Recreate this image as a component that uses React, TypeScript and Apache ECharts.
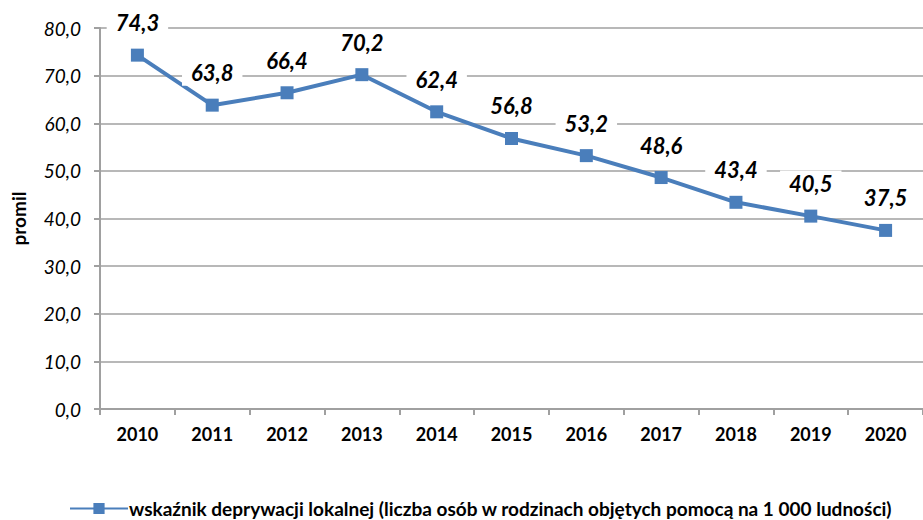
import React, { useEffect, useRef } from "react";
import * as echarts from "echarts";

const years = ["2010", "2011", "2012", "2013", "2014", "2015", "2016", "2017", "2018", "2019", "2020"];
const values = [74.3, 63.8, 66.4, 70.2, 62.4, 56.8, 53.2, 48.6, 43.4, 40.5, 37.5];
const seriesName = "wskaźnik deprywacji lokalnej (liczba osób w rodzinach objętych pomocą na 1 000 ludności)";
const yAxisName = "promil";

const FONT = "Lato, 'Open Sans', sans-serif";
const BLUE = "#4a7ebb";
const GRID = "#a0a0a0";

export default function App() {
  const ref = useRef<HTMLDivElement>(null);
  useEffect(() => {
    if (!ref.current) return;
    const chart = echarts.init(ref.current, null, { renderer: "svg" });
    chart.setOption({
      animation: false,
      grid: { left: 100, right: -7, top: 28, bottom: 111, containLabel: false },
      legend: {
        show: true,
        left: 64,
        top: 494,
        itemWidth: 58,
        itemHeight: 14,
        itemGap: 0,
        textStyle: { fontFamily: FONT, fontWeight: "bold", fontSize: 19, color: "#000", padding: [0, 0, 0, -4] },
        data: [{ name: seriesName }],
      },
      xAxis: {
        type: "category",
        data: years,
        boundaryGap: true,
        axisLine: { lineStyle: { color: GRID, width: 2 } },
        axisTick: { show: true, length: 6, alignWithLabel: false, lineStyle: { color: GRID, width: 2 } },
        axisLabel: { fontFamily: FONT, fontWeight: "bold", fontSize: 18, color: "#000", margin: 16 },
      },
      yAxis: {
        type: "value",
        min: 0,
        max: 80,
        interval: 10,
        name: yAxisName,
        nameLocation: "middle",
        nameGap: 72,
        nameRotate: 90,
        nameTextStyle: { fontFamily: FONT, fontWeight: "bold", fontSize: 19, color: "#000" },
        axisLine: { show: true, lineStyle: { color: GRID, width: 2 } },
        axisTick: { show: true, length: 6, lineStyle: { color: GRID, width: 2 } },
        splitLine: { lineStyle: { color: GRID, width: 1.6 } },
        axisLabel: {
          fontFamily: FONT,
          fontStyle: "italic",
          fontSize: 19,
          color: "#000",
          margin: 19,
          formatter: (v: number) => v.toFixed(1).replace(".", ","),
        },
      },
      series: [
        {
          name: seriesName,
          type: "line",
          data: values,
          symbol: "rect",
          symbolSize: 13,
          itemStyle: { color: BLUE },
          lineStyle: { color: BLUE, width: 4 },
          label: {
            show: true,
            position: "top",
            distance: 13,
            fontFamily: FONT,
            fontWeight: "bold",
            fontStyle: "italic",
            fontSize: 22,
            color: "#000",
            backgroundColor: "#fff",
            padding: [2, 9],
            formatter: (p: any) => Number(p.value).toFixed(1).replace(".", ","),
          },
          z: 3,
        },
      ],
    });
    return () => chart.dispose();
  }, []);
  return <div ref={ref} style={{ width: 923, height: 520, position: "absolute", left: 0, top: 0 }} />;
}
